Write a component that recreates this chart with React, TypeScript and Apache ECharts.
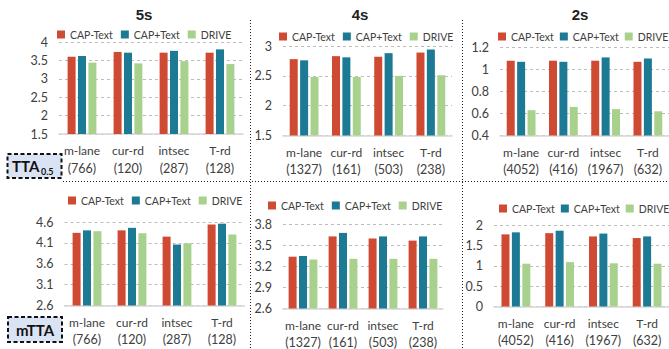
import React, { useEffect, useRef } from 'react';
import * as echarts from 'echarts';

// Scenario categories and sample counts per prediction horizon
const categories = ['m-lane', 'cur-rd', 'intsec', 'T-rd'];
const counts5s = ['(766)', '(120)', '(287)', '(128)'];
const counts4s = ['(1327)', '(161)', '(503)', '(238)'];
const counts2s = ['(4052)', '(416)', '(1967)', '(632)'];

const seriesNames = ['CAP-Text', 'CAP+Text', 'DRIVE'];
const seriesColors = ['#CF4A33', '#1C7A94', '#A9D18E'];

// TTA_0.5 values
const tta5sCapMinus = [3.6, 3.73, 3.71, 3.71];
const tta5sCapPlus = [3.62, 3.71, 3.76, 3.8];
const tta5sDrive = [3.44, 3.42, 3.48, 3.4];

const tta4sCapMinus = [2.78, 2.83, 2.82, 2.89];
const tta4sCapPlus = [2.76, 2.81, 2.88, 2.94];
const tta4sDrive = [2.48, 2.48, 2.5, 2.51];

const tta2sCapMinus = [1.08, 1.08, 1.08, 1.07];
const tta2sCapPlus = [1.07, 1.07, 1.11, 1.1];
const tta2sDrive = [0.63, 0.66, 0.64, 0.62];

// mTTA values
const mtta5sCapMinus = [4.34, 4.4, 4.25, 4.54];
const mtta5sCapPlus = [4.4, 4.46, 4.06, 4.56];
const mtta5sDrive = [4.38, 4.33, 4.09, 4.3];

const mtta4sCapMinus = [3.34, 3.63, 3.6, 3.57];
const mtta4sCapPlus = [3.35, 3.68, 3.63, 3.63];
const mtta4sDrive = [3.3, 3.31, 3.31, 3.31];

const mtta2sCapMinus = [1.77, 1.8, 1.72, 1.68];
const mtta2sCapPlus = [1.82, 1.86, 1.79, 1.72];
const mtta2sDrive = [1.05, 1.09, 1.06, 1.05];

// Y-axis tick labels
const ttaTicks5s = [1.5, 2, 2.5, 3, 3.5, 4];
const ttaTicks4s = [1.5, 2, 2.5, 3];
const ttaTicks2s = [0.4, 0.6, 0.8, 1, 1.2];
const mttaTicks5s = [2.6, 3.1, 3.6, 4.1, 4.6];
const mttaTicks4s = [2.6, 2.9, 3.2, 3.5, 3.8];
const mttaTicks2s = [0, 0.5, 1, 1.5, 2];

const horizonTitles = ['5s', '4s', '2s'];

const FONT = 'Lato, "Liberation Sans", sans-serif';
const TEXT_COLOR = '#404040';

type Panel = {
  grid: { left: number; top: number; width: number; height: number };
  legend: { left: number; top: number; gap: number };
  values: number[][];
  ticks: number[];
  counts: string[];
};

const panels: Panel[] = [
  {
    grid: { left: 59, top: 42, width: 184, height: 92 },
    legend: { left: 57, top: 29, gap: 8 },
    values: [tta5sCapMinus, tta5sCapPlus, tta5sDrive],
    ticks: ttaTicks5s,
    counts: counts5s,
  },
  {
    grid: { left: 283, top: 46, width: 169, height: 89.5 },
    legend: { left: 279, top: 31, gap: 8 },
    values: [tta4sCapMinus, tta4sCapPlus, tta4sDrive],
    ticks: ttaTicks4s,
    counts: counts4s,
  },
  {
    grid: { left: 500, top: 47.5, width: 176, height: 88 },
    legend: { left: 498, top: 31, gap: 6 },
    values: [tta2sCapMinus, tta2sCapPlus, tta2sDrive],
    ticks: ttaTicks2s,
    counts: counts2s,
  },
  {
    grid: { left: 64.5, top: 222, width: 180, height: 83.5 },
    legend: { left: 68, top: 195, gap: 8 },
    values: [mtta5sCapMinus, mtta5sCapPlus, mtta5sDrive],
    ticks: mttaTicks5s,
    counts: counts5s,
  },
  {
    grid: { left: 283, top: 224.5, width: 160, height: 84 },
    legend: { left: 268, top: 200, gap: 8 },
    values: [mtta4sCapMinus, mtta4sCapPlus, mtta4sDrive],
    ticks: mttaTicks4s,
    counts: counts4s,
  },
  {
    grid: { left: 494, top: 225, width: 176, height: 81.5 },
    legend: { left: 499, top: 203, gap: 6 },
    values: [mtta2sCapMinus, mtta2sCapPlus, mtta2sDrive],
    ticks: mttaTicks2s,
    counts: counts2s,
  },
];

function buildOption() {
  const grids = panels.map((p) => ({ ...p.grid, containLabel: false }));

  const xAxes = panels.map((p, i) => ({
    type: 'category',
    gridIndex: i,
    data: categories,
    axisTick: { show: false },
    axisLine: { lineStyle: { color: '#d6d6d6', width: 1.5 } },
    axisLabel: {
      interval: 0,
      margin: 8,
      color: TEXT_COLOR,
      fontFamily: FONT,
      formatter: (v: string, idx: number) => `{n|${v}}\n{c|${p.counts[idx]}}`,
      rich: {
        n: { fontFamily: FONT, fontSize: 12, lineHeight: 17, color: TEXT_COLOR },
        c: { fontFamily: FONT, fontSize: 12.5, lineHeight: 18, color: TEXT_COLOR },
      },
    },
  }));

  const yAxes = panels.map((p, i) => ({
    type: 'value',
    gridIndex: i,
    min: p.ticks[0],
    max: p.ticks[p.ticks.length - 1],
    axisLine: { show: false },
    axisTick: { show: false, customValues: p.ticks },
    axisLabel: {
      customValues: p.ticks,
      margin: 11,
      color: TEXT_COLOR,
      fontFamily: FONT,
      fontSize: 12.5,
    },
    splitLine: { lineStyle: { color: '#bdbdbd', type: [3, 3], width: 1 } },
  }));

  const series: any[] = [];
  panels.forEach((p, i) => {
    p.values.forEach((vals, k) => {
      series.push({
        type: 'bar',
        name: seriesNames[k],
        xAxisIndex: i,
        yAxisIndex: i,
        data: vals,
        barWidth: 8,
        barGap: '30%',
        itemStyle: { color: seriesColors[k] },
      });
    });
  });

  const legends = panels.map((p) => ({
    left: p.legend.left,
    top: p.legend.top,
    width: 320,
    padding: 0,
    icon: 'rect',
    itemWidth: 8,
    itemHeight: 8,
    itemGap: p.legend.gap,
    selectedMode: false,
    data: seriesNames,
    textStyle: { color: TEXT_COLOR, fontFamily: FONT, fontSize: 10.5 },
  }));

  const dotted = { stroke: '#222', lineWidth: 1, lineDash: [1, 2] };
  const titleX = [144, 360, 580];

  const graphic: any[] = [
    ...horizonTitles.map((t, i) => ({
      type: 'text',
      x: titleX[i],
      y: 14,
      style: {
        text: t,
        fill: '#222',
        font: 'bold 15px "Liberation Sans", Arial, sans-serif',
        textAlign: 'center',
        textVerticalAlign: 'middle',
      },
    })),
    { type: 'line', shape: { x1: 250.5, y1: 20, x2: 250.5, y2: 349 }, style: dotted },
    { type: 'line', shape: { x1: 462.5, y1: 20, x2: 462.5, y2: 349 }, style: dotted },
    { type: 'line', shape: { x1: 63, y1: 181.5, x2: 669, y2: 181.5 }, style: dotted },
    {
      type: 'rect',
      shape: { x: 7.5, y: 154, width: 54, height: 24 },
      style: { fill: '#dae3f3', stroke: '#111', lineWidth: 2, lineDash: [4, 2.5] },
    },
    {
      type: 'text',
      x: 12,
      y: 166,
      style: {
        text: 'TTA',
        fill: '#111',
        font: `bold 15px ${FONT}`,
        textVerticalAlign: 'middle',
      },
    },
    {
      type: 'text',
      x: 41,
      y: 171,
      style: {
        text: '0.5',
        fill: '#111',
        font: `bold 9px ${FONT}`,
        textVerticalAlign: 'middle',
      },
    },
    {
      type: 'rect',
      shape: { x: 8, y: 317, width: 54, height: 25 },
      style: { fill: '#dae3f3', stroke: '#111', lineWidth: 2, lineDash: [4, 2.5] },
    },
    {
      type: 'text',
      x: 35,
      y: 330,
      style: {
        text: 'mTTA',
        fill: '#111',
        font: `bold 15px ${FONT}`,
        textAlign: 'center',
        textVerticalAlign: 'middle',
      },
    },
  ];

  return {
    animation: false,
    backgroundColor: '#ffffff',
    grid: grids,
    xAxis: xAxes,
    yAxis: yAxes,
    legend: legends,
    series,
    graphic,
  };
}

export default function App() {
  const ref = useRef<HTMLDivElement>(null);

  useEffect(() => {
    if (!ref.current) return;
    const chart = echarts.init(ref.current, undefined, { renderer: 'svg' });
    chart.setOption(buildOption() as any);
    return () => chart.dispose();
  }, []);

  return (
    <div
      ref={ref}
      style={{ position: 'absolute', left: 0, top: 0, width: 669, height: 349 }}
    />
  );
}
